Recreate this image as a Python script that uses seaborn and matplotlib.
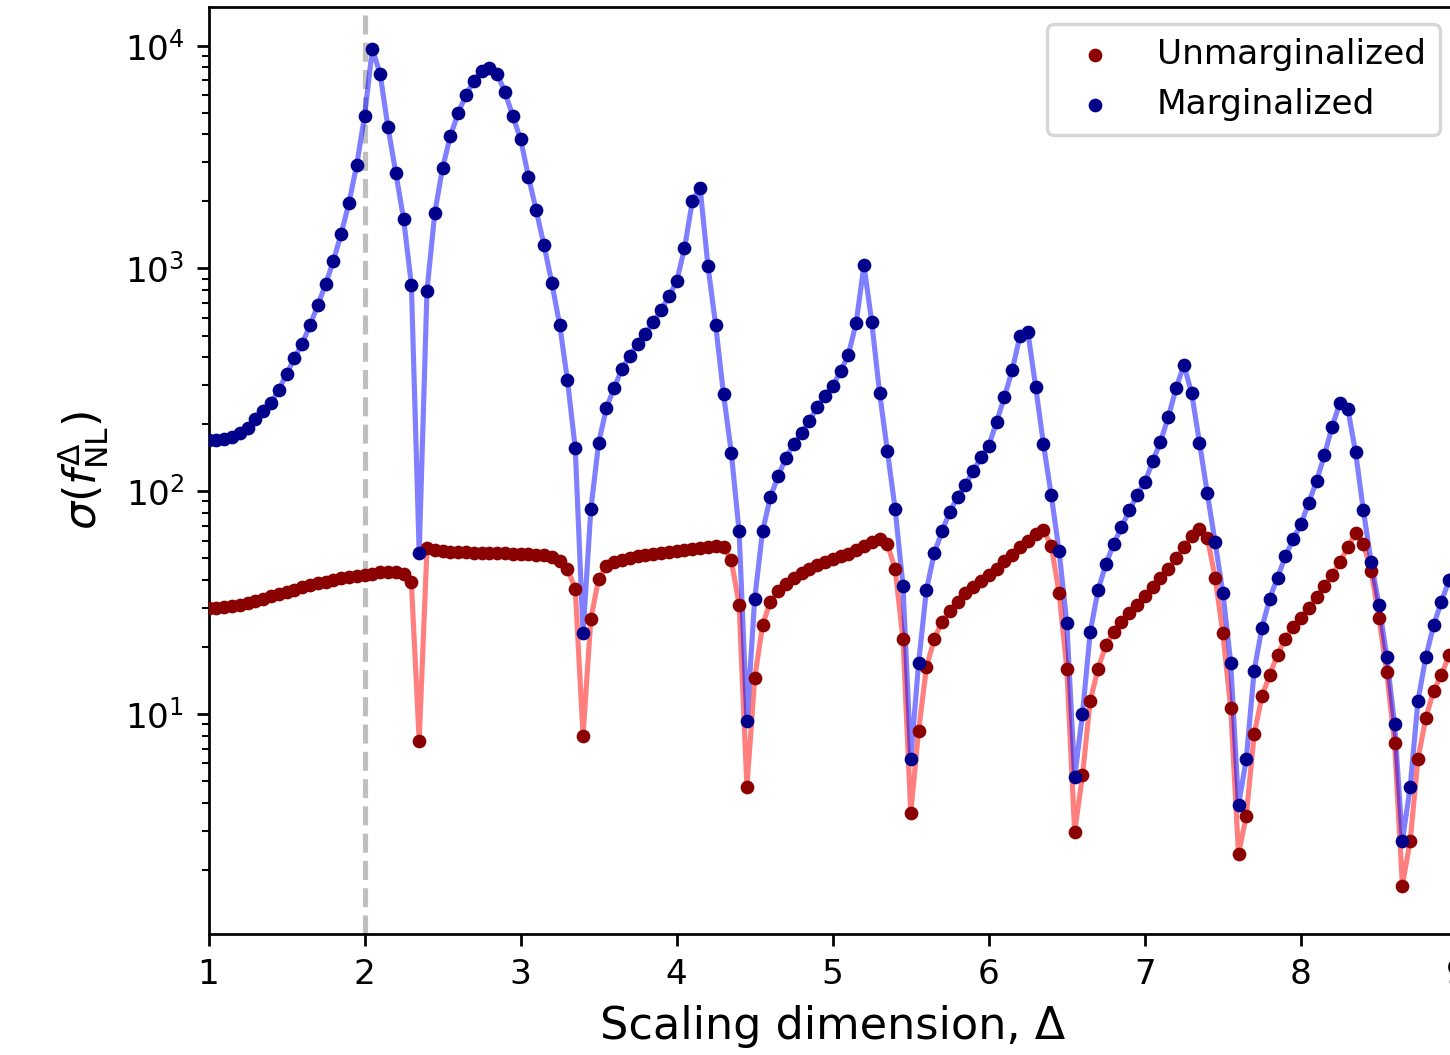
import numpy as np
import pandas as pd
import matplotlib
matplotlib.use("Agg")
import matplotlib.pyplot as plt
import seaborn as sns

# Scaling dimension grid (step 0.05 from 1 to 9)
delta = np.linspace(1.0, 9.0, 161)

# sigma(f_NL^Delta) without marginalization
unmarg = [
    30, 30, 30.2, 30.5, 31, 31.6, 32.3, 33, 33.8, 34.6,
    35.4, 36.2, 37, 37.8, 38.6, 39.3, 40, 40.6, 41.2, 41.7,
    42.2, 42.7, 43.2, 43.6, 43.6, 42.5, 39, 7.6, 55.5, 54.5,
    54, 53.6, 53.3, 53.1, 53, 52.9, 52.8, 52.7, 52.6, 52.5,
    52.4, 52.2, 52, 51.5, 50.5, 48.5, 45, 36.5, 8.0, 26.8,
    40.5, 46, 48, 49, 50, 51, 51.8, 52.5, 53, 53.5,
    54, 54.5, 55, 55.5, 56, 56.5, 56, 49, 31, 4.7,
    14.5, 25, 32, 35.5, 38.5, 41, 43, 45, 46.5, 48,
    49.5, 51, 52.5, 54.5, 56.5, 59, 61, 58, 44.6, 21.7,
    3.6, 8.4, 16.2, 21.7, 26, 29, 32, 35, 37, 39.5,
    42, 45, 48.5, 52, 56, 60, 64, 67, 57, 35,
    16, 2.95, 5.3, 11.5, 16, 20.4, 23.4, 26, 28.5, 31,
    34, 37, 41, 45, 50, 56, 63, 68, 62, 41,
    23, 10.6, 2.35, 3.5, 8.1, 12, 15, 18.5, 21.8, 24.5,
    27, 30, 33.5, 37.5, 42, 48, 56, 65, 58, 44,
    27, 15.4, 7.4, 1.7, 2.7, 6.3, 9.6, 12.7, 15, 18.4,
    21,
]

# sigma(f_NL^Delta) after marginalizing over the other parameters
marg = [
    170, 170, 171, 175, 182, 192, 210, 228, 248, 285,
    335, 395, 460, 555, 683, 849, 1080, 1430, 1970, 2920,
    4830, 9660, 7450, 4300, 2690, 1670, 845, 53, 796, 1775,
    2830, 3930, 5000, 5990, 6950, 7720, 7900, 7450, 6180, 4820,
    3800, 2580, 1820, 1270, 860, 560, 315, 156, 23, 83,
    165, 237, 292, 355, 405, 460, 510, 573, 649, 750,
    877, 1230, 2000, 2300, 1030, 555, 273, 149, 66, 9.3,
    33, 66, 94, 117, 141, 163, 183, 206, 239, 268,
    297, 345, 410, 570, 1035, 573, 277, 151, 83, 37.6,
    6.3, 16.9, 36, 52.6, 66, 81, 94, 107, 123, 142,
    160, 205, 265, 350, 500, 520, 295, 163, 96, 54,
    25.5, 5.2, 10, 23.4, 36, 47, 58, 69, 82, 96,
    110, 136, 167, 215, 290, 370, 275, 165, 98, 59,
    35, 17, 3.9, 6.3, 15.6, 24.4, 33, 41, 51, 61,
    71, 89, 111, 145, 195, 250, 235, 150, 82, 48,
    31, 18, 9, 2.7, 4.7, 11.5, 18, 25, 32, 40,
    48,
]

x_ticks = [1, 2, 3, 4, 5, 6, 7, 8, 9]

df = pd.DataFrame({"delta": delta, "unmarg": unmarg, "marg": marg})

DPI = 247
fig = plt.figure(figsize=(1450 / DPI, 1055 / DPI), dpi=DPI)
ax = fig.add_axes([208.5 / 1450, 121 / 1055, 1248.5 / 1450, 926.7 / 1055])

ax.axvline(2, color="gray", alpha=0.5, ls="--", lw=1.5, zorder=0)

sns.lineplot(data=df, x="delta", y="unmarg", color="red", alpha=0.5, lw=1.5,
             ax=ax, zorder=1)
sns.lineplot(data=df, x="delta", y="marg", color="blue", alpha=0.5, lw=1.5,
             ax=ax, zorder=2)
sns.scatterplot(data=df, x="delta", y="unmarg", color="darkred", s=16,
                linewidth=0, label="Unmarginalized", ax=ax, zorder=3)
sns.scatterplot(data=df, x="delta", y="marg", color="darkblue", s=16,
                linewidth=0, label="Marginalized", ax=ax, zorder=4)

ax.set_yscale("log")
ax.set_xlim(1, 9)
ax.set_ylim(1.03, 14860)
ax.set_xticks(x_ticks)
ax.set_xlabel("Scaling dimension, \u0394", fontsize=13)
ax.set_ylabel(r"$\sigma(f^{\Delta}_{\rm NL})$", fontsize=13)
ax.legend(loc="upper right", fontsize=10)

fig.savefig("out.png", dpi=DPI)
